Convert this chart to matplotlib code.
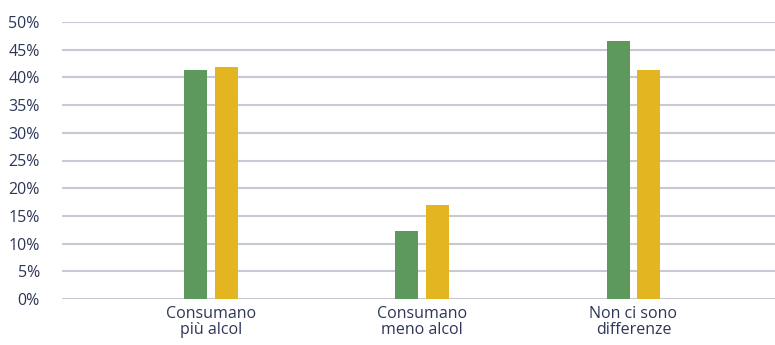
import numpy as np
import matplotlib.pyplot as plt
from matplotlib.ticker import PercentFormatter

categories = ["Consumano\npiù alcol", "Consumano\nmeno alcol", "Non ci sono\ndifferenze"]
serie_verde = [41.3, 12.3, 46.6]
serie_gialla = [41.9, 17.0, 41.3]

plt.rcParams['font.family'] = ['Open Sans', 'DejaVu Sans']
text_color = "#2d3658"
grid_color = "#c9c9d3"

fig = plt.figure(figsize=(7.75, 3.45), dpi=100)
ax = fig.add_axes([62 / 775, 1 - 299 / 345, 1 - 62 / 775, (299 - 22) / 345])

x = np.arange(len(categories))
width = 0.109
ax.bar(x - 0.073, serie_verde, width, color="#5d985d", zorder=3)
ax.bar(x + 0.073, serie_gialla, width, color="#e3b520", zorder=3)

ax.set_ylim(0, 50)
ax.set_xlim(-0.706, 2.67)
ax.set_yticks(np.arange(0, 51, 5))
ax.yaxis.set_major_formatter(PercentFormatter(decimals=0))
ax.grid(axis="y", color=grid_color, linewidth=1.5, zorder=0)
ax.set_xticks(x)
ax.set_xticklabels(categories, linespacing=1.0)
ax.tick_params(axis="both", length=0, labelcolor=text_color, labelsize=11.5)
ax.tick_params(axis="y", pad=16)
ax.tick_params(axis="x", pad=5)
for s in ax.spines.values():
    s.set_visible(False)

fig.savefig("out.png", dpi=100)
